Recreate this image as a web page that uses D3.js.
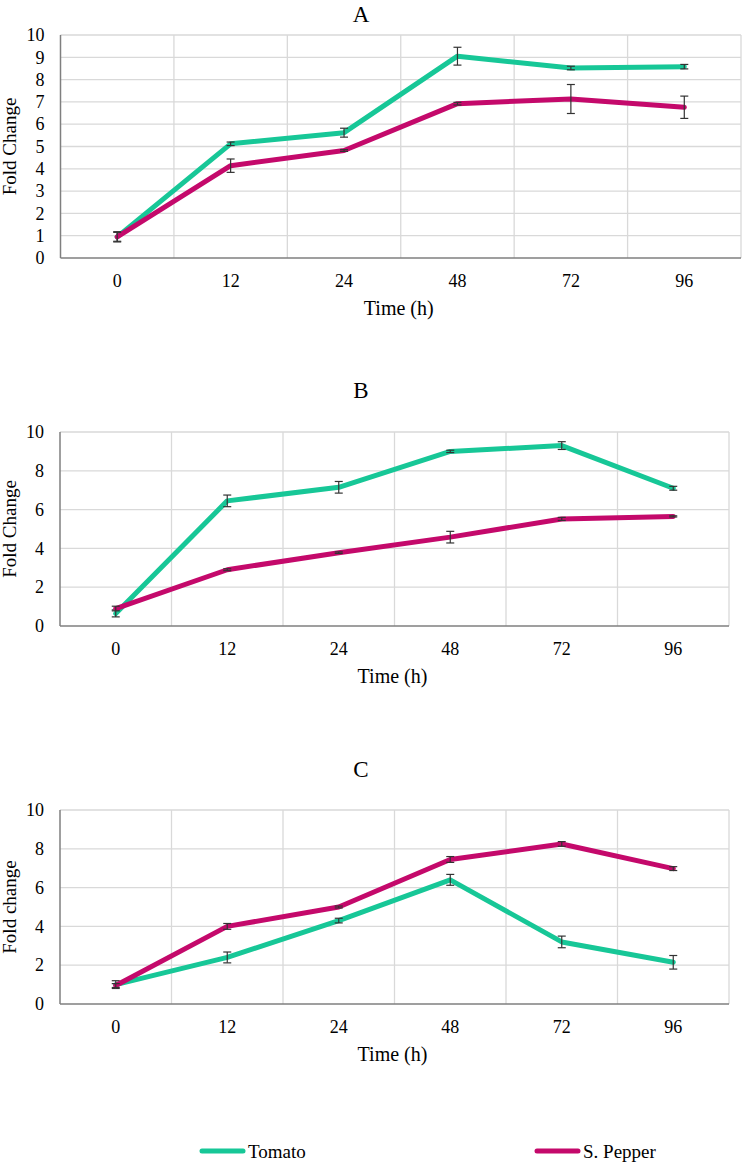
<!DOCTYPE html>
<html>
<head>
<meta charset="utf-8">
<script src="https://cdn.jsdelivr.net/npm/d3@7"></script>
<style>
  html, body { margin: 0; padding: 0; background: #fff; }
  svg { display: block; }
</style>
</head>
<body>
<svg id="chart" width="742" height="1162"></svg>
<script>
// ---- data ----
const categories = ["0", "12", "24", "48", "72", "96"];
const seriesNames = ["Tomato", "S. Pepper"];

const tomatoA = [0.95, 5.12, 5.62, 9.05, 8.52, 8.58];
const tomatoAErr = [0.23, 0.08, 0.2, 0.4, 0.08, 0.1];
const pepperA = [0.95, 4.14, 4.82, 6.92, 7.13, 6.76];
const pepperAErr = [0.2, 0.3, 0.04, 0.06, 0.65, 0.5];

const tomatoB = [0.65, 6.45, 7.15, 9.0, 9.3, 7.1];
const tomatoBErr = [0.18, 0.3, 0.3, 0.06, 0.2, 0.1];
const pepperB = [0.9, 2.9, 3.78, 4.58, 5.52, 5.65];
const pepperBErr = [0.12, 0.05, 0.04, 0.3, 0.08, 0.03];

const tomatoC = [1.0, 2.4, 4.3, 6.4, 3.2, 2.15];
const tomatoCErr = [0.2, 0.28, 0.12, 0.28, 0.3, 0.35];
const pepperC = [0.95, 4.0, 5.0, 7.45, 8.25, 6.98];
const pepperCErr = [0.1, 0.15, 0.05, 0.15, 0.12, 0.1];

const yTicksA = [0, 1, 2, 3, 4, 5, 6, 7, 8, 9, 10];
const yTicksBC = [0, 2, 4, 6, 8, 10];
const panelTitles = ["A", "B", "C"];
const yLabels = ["Fold Change", "Fold Change", "Fold change"];
const xLabel = "Time (h)";

// ---- styles ----
const colors = ["#17c797", "#c4096b"];
const gridColor = "#d9d9d9";
const axisColor = "#7f7f7f";
const errColor = "#333333";
const FONT = "'Liberation Serif'";

const svg = d3.select("#chart").attr("font-family", FONT);

const panels = [
  { title: panelTitles[0], yLabel: yLabels[0], ticks: yTicksA, left: 60.5, right: 741, top: 35, bottom: 258, titleY: 22,
    series: [[tomatoA, tomatoAErr], [pepperA, pepperAErr]] },
  { title: panelTitles[1], yLabel: yLabels[1], ticks: yTicksBC, left: 60, right: 729, top: 432, bottom: 626, titleY: 398,
    series: [[tomatoB, tomatoBErr], [pepperB, pepperBErr]] },
  { title: panelTitles[2], yLabel: yLabels[2], ticks: yTicksBC, left: 60, right: 729, top: 810, bottom: 1004, titleY: 777,
    series: [[tomatoC, tomatoCErr], [pepperC, pepperCErr]] }
];

panels.forEach(p => {
  const g = svg.append("g").attr("font-family", FONT);
  const x = d3.scaleBand().domain(categories).range([p.left, p.right]).paddingInner(0).paddingOuter(0);
  const y = d3.scaleLinear().domain([0, 10]).range([p.bottom, p.top]);

  g.append("g").selectAll("line").data(p.ticks.filter(t => t > 0)).join("line")
    .attr("x1", p.left).attr("x2", p.right)
    .attr("y1", d => y(d)).attr("y2", d => y(d))
    .attr("stroke", gridColor).attr("stroke-width", 1.3);

  const bounds = categories.slice(1).map(c => x(c)).concat([p.right]);
  g.append("g").selectAll("line").data(bounds).join("line")
    .attr("x1", d => d).attr("x2", d => d)
    .attr("y1", p.top).attr("y2", p.bottom)
    .attr("stroke", gridColor).attr("stroke-width", 1.3);

  g.append("line").attr("x1", p.left).attr("x2", p.left).attr("y1", p.top).attr("y2", p.bottom)
    .attr("stroke", axisColor).attr("stroke-width", 1.5);
  g.append("line").attr("x1", p.left).attr("x2", p.right).attr("y1", p.bottom).attr("y2", p.bottom)
    .attr("stroke", axisColor).attr("stroke-width", 1.5);

  const yAxis = d3.axisLeft(y).tickValues(p.ticks).tickSize(0).tickPadding(0).tickFormat(d3.format("d"));
  const ya = g.append("g").attr("transform", `translate(${p.left - 16},0)`).call(yAxis);
  ya.attr("font-family", FONT).attr("font-size", 18);
  ya.select(".domain").remove();
  ya.selectAll("text").attr("font-family", FONT).attr("font-size", 18).attr("fill", "#000");

  const xAxis = d3.axisBottom(x).tickSize(0).tickPadding(0);
  const xa = g.append("g").attr("transform", `translate(0,${p.bottom + 16})`).call(xAxis);
  xa.attr("font-family", FONT).attr("font-size", 18);
  xa.select(".domain").remove();
  xa.selectAll("text").attr("font-family", FONT).attr("font-size", 18).attr("fill", "#000").attr("dy", "0.71em");

  g.append("text").attr("x", 361).attr("y", p.titleY).attr("text-anchor", "middle")
    .attr("font-family", FONT).attr("font-size", 23).attr("fill", "#000").text(p.title);

  g.append("text").attr("transform", `translate(16,${(p.top + p.bottom) / 2}) rotate(-90)`)
    .attr("text-anchor", "middle").attr("font-family", FONT).attr("font-size", 19).attr("fill", "#000").text(p.yLabel);
  g.append("text").attr("x", (p.left + p.right) / 2 - 2).attr("y", p.bottom + 57)
    .attr("text-anchor", "middle").attr("font-family", FONT).attr("font-size", 20).attr("fill", "#000").text(xLabel);

  const cx = c => x(c) + x.bandwidth() / 2;
  const line = d3.line().x(d => cx(d.c)).y(d => y(d.v));

  p.series.forEach(([vals, errs], si) => {
    const pts = categories.map((c, i) => ({ c, v: vals[i], e: errs[i] }));
    g.append("path").datum(pts).attr("d", line).attr("fill", "none")
      .attr("stroke", colors[si]).attr("stroke-width", 5)
      .attr("stroke-linejoin", "round").attr("stroke-linecap", "round");
    const eg = g.append("g").attr("stroke", errColor).attr("stroke-width", 1.2);
    pts.forEach(d => {
      const xx = cx(d.c), y1 = y(d.v + d.e), y2 = y(d.v - d.e);
      eg.append("line").attr("x1", xx).attr("x2", xx).attr("y1", y1).attr("y2", y2);
      eg.append("line").attr("x1", xx - 4).attr("x2", xx + 4).attr("y1", y1).attr("y2", y1);
      eg.append("line").attr("x1", xx - 4).attr("x2", xx + 4).attr("y1", y2).attr("y2", y2);
    });
  });
});

const legendX = [202, 537];
const legend = svg.append("g").attr("font-family", FONT);
seriesNames.forEach((name, i) => {
  legend.append("line").attr("x1", legendX[i]).attr("x2", legendX[i] + 41)
    .attr("y1", 1151).attr("y2", 1151).attr("stroke", colors[i]).attr("stroke-width", 5)
    .attr("stroke-linecap", "round");
  legend.append("text").attr("x", legendX[i] + 46).attr("y", 1151).attr("dy", "0.35em")
    .attr("font-family", FONT).attr("font-size", 19).attr("fill", "#000").text(name);
});
</script>
</body>
</html>
